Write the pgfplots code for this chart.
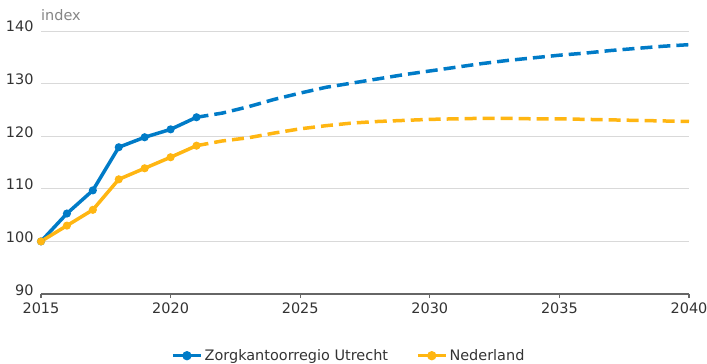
\documentclass[border=0pt]{standalone}
\usepackage{fontspec}
\setmainfont{DejaVu Sans}
\usepackage{pgfplots}
\pgfplotsset{compat=1.18}
\definecolor{rijkblauw}{HTML}{007BC7}
\definecolor{rijkgeel}{HTML}{FFB612}
\definecolor{gridgray}{HTML}{D9D9D9}
\definecolor{axisgray}{HTML}{666666}
\definecolor{txt}{HTML}{333333}
\begin{document}
\begin{tikzpicture}
\begin{axis}[
  at={(41bp,70bp)}, anchor=south west,
  scale only axis, width=648bp, height=263bp,
  xmin=2015, xmax=2040, ymin=90, ymax=140,
  xtick={2015,2020,...,2040}, ytick={90,100,...,140},
  /pgf/number format/1000 sep={},
  /pgf/number format/assume math mode=true,
  font=\fontsize{14.5}{17}\selectfont,
  tick label style={text=txt},
  axis x line*=bottom, axis y line*=left,
  y axis line style={draw=none},
  ymajorgrids, grid style={gridgray, line width=0.8bp},
  x axis line style={axisgray, line width=1.6bp, -},
  xtick style={axisgray, line width=1.2bp},
  major tick length=4bp, tick align=outside,
  xticklabel style={yshift=-1bp},
  yticklabel style={anchor=base east, xshift=0bp, yshift=-1bp},
  ytick style={draw=none},
  clip=false,
  legend columns=2,
  legend style={at={(0.475,-0.195)}, anchor=north, draw=none, fill=none,
    text=txt, font=\fontsize{14.5}{17}\selectfont,
    /tikz/every even column/.append style={column sep=26bp}},
  legend image code/.code={
    \path[#1, draw, solid, mark=none] (0bp,0bp) -- (28bp,0bp);
    \fill[#1] (14bp,0bp) circle (2.8bp);
  },
]
\addplot[rijkblauw, line width=3.5bp, mark=*, mark size=2.2bp, mark options={solid}] coordinates {
(2015,100.0) (2016,105.3) (2017,109.7) (2018,117.9) (2019,119.8) (2020,121.3) (2021,123.6)};
\addlegendentry{Zorgkantoorregio Utrecht}
\addplot[rijkgeel, line width=3.5bp, mark=*, mark size=2.2bp, mark options={solid}] coordinates {
(2015,100.0) (2016,103.0) (2017,106.0) (2018,111.8) (2019,113.9) (2020,116.0) (2021,118.2)};
\addlegendentry{Nederland}
\addplot[rijkblauw, line width=3.5bp, dash pattern=on 12bp off 6bp, forget plot] coordinates {
(2021,123.6) (2022,124.4) (2023,125.6) (2024,127.0) (2025,128.2) (2026,129.3) (2027,130.1)
(2028,130.9) (2029,131.7) (2030,132.4) (2031,133.1) (2032,133.8) (2033,134.4) (2034,134.9)
(2035,135.4) (2036,135.8) (2037,136.3) (2038,136.7) (2039,137.1) (2040,137.4)};
\addplot[rijkgeel, line width=3.5bp, dash pattern=on 12bp off 6bp, forget plot] coordinates {
(2021,118.2) (2022,119.1) (2023,119.7) (2024,120.6) (2025,121.4) (2026,122.0) (2027,122.5)
(2028,122.8) (2029,123.0) (2030,123.2) (2031,123.3) (2032,123.4) (2033,123.4) (2034,123.3)
(2035,123.3) (2036,123.2) (2037,123.1) (2038,123.0) (2039,122.9) (2040,122.8)};
\node[anchor=base west, text=axisgray!80, font=\fontsize{14.5}{17}\selectfont, inner sep=0pt]
  at (rel axis cs:0,1) [yshift=10bp] {index};
\end{axis}
\pgfresetboundingbox
\path[use as bounding box] (0bp,0bp) rectangle (707bp,364bp);
\end{tikzpicture}
\end{document}
